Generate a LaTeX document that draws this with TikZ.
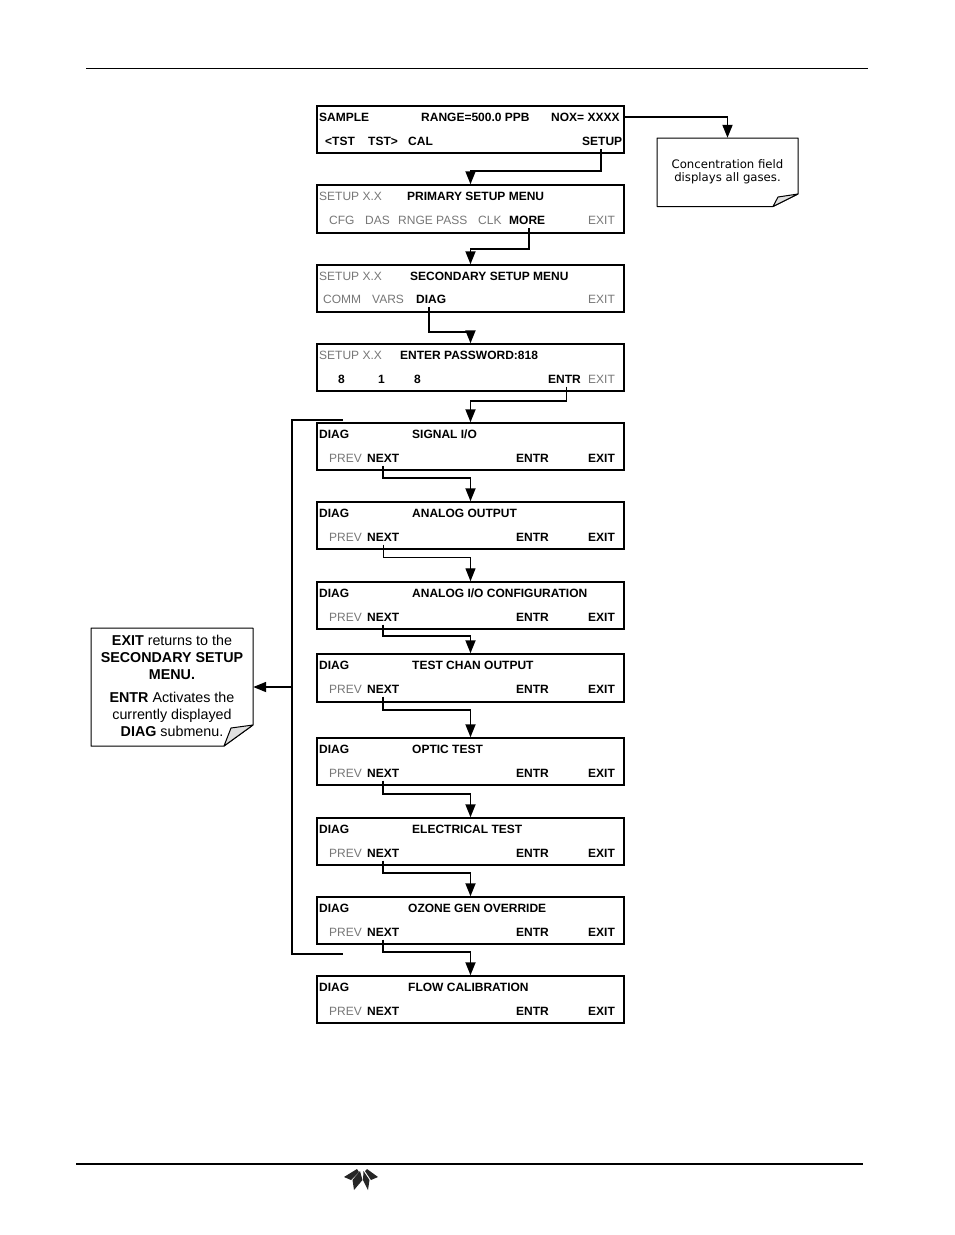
\documentclass[tikz,border=0pt]{standalone}
\usepackage{fontspec}
\setmainfont{Liberation Sans}
\newfontfamily\notefont{DejaVu Sans}
\usetikzlibrary{arrows.meta}
\definecolor{inactive}{HTML}{777777}
\definecolor{foldgray}{HTML}{E0E0E0}
\tikzset{
  screen/.style={draw=black,line width=1.5pt,fill=white,minimum width=307pt,inner sep=0pt,rectangle},
  on/.style={anchor=base west,inner sep=0pt,text=black,font=\fontsize{12}{14}\selectfont\bfseries},
  off/.style={anchor=base west,inner sep=0pt,text=inactive,font=\fontsize{12}{14}\selectfont},
  conn/.style={line width=1.8pt,-{Triangle[length=13pt,width=10pt]}},
  loopline/.style={line width=1.8pt},
  rule/.style={line width=#1},
  note/.style={draw=black,line width=1pt,fill=white,line join=bevel},
  fold/.style={draw=black,line width=1pt,fill=foldgray,line join=bevel},
  logo/.style={fill=black!85,draw=none},
  notetext/.style={inner sep=0pt,align=center}
}
% screen box: id, top, bottom
\newcommand{\scrbox}[3]{\node[screen,minimum height={(#3-#2)*1pt}] (b#1) at (470.5,{(#2+#3)/2}) {};}
% one of the eight DIAG screens: id, top, bottom, title x, title
\newcommand{\diagscr}[5]{%
  \scrbox{#1}{#2}{#3}
  \node[on] (d#1) at (319,#2+15) {DIAG};
  \node[on] (t#1) at (#4,#2+15) {#5};
  \node[off] (p#1) at (329,#2+39.5) {PREV};
  \node[on] (n#1) at (367,#2+39.5) {NEXT};
  \node[on] (e#1) at (516,#2+39.5) {ENTR};
  \node[on] (x#1) at (588,#2+39.5) {EXIT};
}
\begin{document}
\begin{tikzpicture}[x=1pt,y=-1pt]
\useasboundingbox (0,0) rectangle (954,1235);
% page rules
\coordinate (hl) at (86,68); \coordinate (hr) at (868,68);
\coordinate (fl) at (76,1164); \coordinate (fr) at (863,1164);
\draw[rule=0.9pt] (hl) -- (hr);
\draw[rule=2pt] (fl) -- (fr);
% logo
\fill[logo] (344,1177) -- (357,1169) -- (359,1172) -- (351,1180) -- cycle;
\fill[logo] (354,1190) -- (352.5,1180) -- (360,1171) -- (362.5,1180) -- cycle;
\fill[logo] (368,1190) -- (363,1180) -- (363.5,1171) -- (369.5,1180) -- cycle;
\fill[logo] (378,1177) -- (367,1169) -- (365,1171) -- (371,1180) -- cycle;
% setup screens
\scrbox{1}{106}{153}
\node[on] (s1a) at (319,121) {SAMPLE};
\node[on] (s1b) at (421,121) {RANGE=500.0 PPB};
\node[on] (s1c) at (551,121) {NOX= XXXX};
\node[on] (s1d) at (325,145.5) {<TST};
\node[on] (s1e) at (368,145.5) {TST>};
\node[on] (s1f) at (408,145.5) {CAL};
\node[on] (s1g) at (582,145.5) {SETUP};
\scrbox{2}{185}{233}
\node[off] (s2a) at (319,200) {SETUP X.X};
\node[on] (s2b) at (407,200) {PRIMARY SETUP MENU};
\node[off] (s2c) at (329,224.5) {CFG};
\node[off] (s2d) at (365,224.5) {DAS};
\node[off] (s2e) at (398,224.5) {RNGE PASS};
\node[off] (s2f) at (478,224.5) {CLK};
\node[on] (s2g) at (509,224.5) {MORE};
\node[off] (s2h) at (588,224.5) {EXIT};
\scrbox{3}{265}{312}
\node[off] (s3a) at (319,280) {SETUP X.X};
\node[on] (s3b) at (410,280) {SECONDARY SETUP MENU};
\node[off] (s3c) at (323,303.5) {COMM};
\node[off] (s3d) at (372,303.5) {VARS};
\node[on] (s3e) at (416,303.5) {DIAG};
\node[off] (s3f) at (588,303.5) {EXIT};
\scrbox{4}{344}{391}
\node[off] (s4a) at (319,359) {SETUP X.X};
\node[on] (s4b) at (400,359) {ENTER PASSWORD:818};
\node[on] (s4c) at (338,383.5) {8};
\node[on] (s4d) at (378,383.5) {1};
\node[on] (s4e) at (414,383.5) {8};
\node[on] (s4f) at (548,383.5) {ENTR};
\node[off] (s4g) at (588,383.5) {EXIT};
% diag screens
\diagscr{5}{423}{470}{412}{SIGNAL I/O}
\diagscr{6}{502}{549}{412}{ANALOG OUTPUT}
\diagscr{7}{582}{629}{412}{ANALOG I/O CONFIGURATION}
\diagscr{8}{654}{702}{412}{TEST CHAN OUTPUT}
\diagscr{9}{738}{785}{412}{OPTIC TEST}
\diagscr{10}{818}{865}{412}{ELECTRICAL TEST}
\diagscr{11}{897}{944}{408}{OZONE GEN OVERRIDE}
\diagscr{12}{976}{1023}{408}{FLOW CALIBRATION}
% notes
\draw[note] (657,138) -- (798,138) -- (798,194) -- (773,206.5) -- (657,206.5) -- cycle;
\draw[fold] (773,206.5) -- (778,197) -- (798,194) -- cycle;
\node[inner sep=0pt,minimum width=141pt,minimum height=68pt] (n1box) at (727.5,172) {};
\node[notetext,font=\notefont\fontsize{11.7}{13}\selectfont] (n1txt) at (727.5,171.5) {Concentration field\\displays all gases.};
\draw[note] (91,628) -- (253,628) -- (253,725) -- (224,746) -- (91,746) -- cycle;
\draw[fold] (224,746) -- (231,728) -- (253,725) -- cycle;
\node[inner sep=0pt,minimum width=162pt,minimum height=118pt] (n2box) at (172,687) {};
\node[notetext,font=\fontsize{14.3}{16.8}\selectfont] (n2txt) at (172,686) {\textbf{EXIT} returns to the\\\textbf{SECONDARY SETUP}\\\textbf{MENU.}\\[6.5pt]\textbf{ENTR} Activates the\\currently displayed\\\textbf{DIAG} submenu.};
% connectors
\draw[conn] (b1.east |- s1c) -| (n1box.north);
\draw[conn] (s1g.south) ++(-1,3) -- ++(0,22.5) -| (b2.north);
\draw[conn] (s2g.south) ++(2,3) -- ++(0,21) -| (b3.north);
\draw[conn] (s3e.south) ++(-2,3) -- ++(0,25) -| (b4.north);
\draw[conn] (s4f.south) ++(2,3) -- ++(0,14) -| (b5.north);
\draw[conn] (n5.south) ++(0,3) -- ++(0,12.5) -| (b6.north);
\draw[conn,line width=1.2pt] (n6.south) ++(0,3) -- ++(0,13) -| (b7.north);
\draw[conn] (n7.south) ++(0,3) -- ++(0,11) -| (b8.north);
\draw[conn] (n8.south) ++(0,3) -- ++(0,13.5) -| (b9.north);
\draw[conn] (n9.south) ++(0,3) -- ++(0,13) -| (b10.north);
\draw[conn] (n10.south) ++(0,3) -- ++(0,12) -| (b11.north);
\draw[conn] (n11.south) ++(0,3) -- ++(0,12.5) -| (b12.north);
% return loop
\coordinate (lt) at (343,420); \coordinate (lb) at (343,954);
\coordinate (lm) at (292,687);
\draw[loopline] (lt) -- (lt -| lm) -- (lb -| lm) -- (lb);
\draw[conn] (lm) -- (n2box.east);
\end{tikzpicture}
\end{document}
